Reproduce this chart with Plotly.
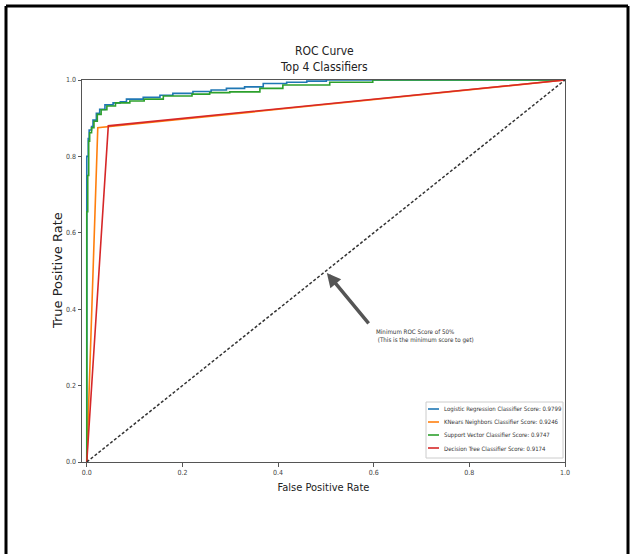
import plotly.graph_objects as go

# ---- data ----
log_fpr = [0.0, 0.0, 0.003, 0.005, 0.010, 0.013, 0.020, 0.027, 0.038, 0.055, 0.070,
           0.083, 0.118, 0.153, 0.180, 0.222, 0.260, 0.292, 0.330, 0.369, 0.418,
           0.460, 0.501, 0.560, 1.0]
log_tpr = [0.0, 0.710, 0.800, 0.847, 0.869, 0.878, 0.895, 0.913, 0.923, 0.935, 0.940,
           0.943, 0.950, 0.955, 0.960, 0.965, 0.970, 0.974, 0.978, 0.982, 0.991,
           0.994, 0.997, 1.0, 1.0]

knn_fpr = [0.0, 0.023, 1.0]
knn_tpr = [0.0, 0.875, 1.0]

svc_fpr = [0.0, 0.0, 0.002, 0.004, 0.006, 0.010, 0.015, 0.022, 0.030, 0.042, 0.060,
           0.090, 0.120, 0.160, 0.220, 0.257, 0.299, 0.362, 0.410, 0.508, 0.598,
           0.679, 1.0]
svc_tpr = [0.0, 0.600, 0.655, 0.750, 0.840, 0.862, 0.875, 0.892, 0.910, 0.922, 0.932,
           0.940, 0.945, 0.950, 0.958, 0.963, 0.967, 0.969, 0.978, 0.987, 0.994,
           1.0, 1.0]

tree_fpr = [0.0, 0.045, 1.0]
tree_tpr = [0.0, 0.880, 1.0]

labels = ["Logistic Regression Classifier Score: 0.9799",
          "KNears Neighbors Classifier Score: 0.9246",
          "Support Vector Classifier Score: 0.9747",
          "Decision Tree Classifier Score: 0.9174"]
colors = ["#1f77b4", "#ff7f0e", "#2ca02c", "#d62728"]

chance_x = [0, 1]
chance_y = [0, 1]

x_ticks = [0.0, 0.2, 0.4, 0.6, 0.8, 1.0]
y_ticks = [0.0, 0.2, 0.4, 0.6, 0.8, 1.0]

NARROW = "Liberation Sans Narrow, DejaVu Sans Condensed, Arial Narrow, sans-serif"

# layout geometry (pixels)
W, H = 631, 554
ML, MR, MT, MB = 82, 66, 80, 92
PW, PH = W - ML - MR, H - MT - MB


def px(xpix):
    return (xpix - ML) / PW


def py(ypix):
    return (H - MB - ypix) / PH


fig = go.Figure()
series = [(log_fpr, log_tpr, "vh"), (knn_fpr, knn_tpr, "linear"),
          (svc_fpr, svc_tpr, "vh"), (tree_fpr, tree_tpr, "linear")]
for (fx, ty, shape), lab, col in zip(series, labels, colors):
    fig.add_trace(go.Scatter(x=fx, y=ty, mode="lines", name=lab, showlegend=False,
                             line=dict(color=col, width=1.6, shape=shape)))

fig.add_trace(go.Scatter(x=chance_x, y=chance_y, mode="lines", showlegend=False,
                         line=dict(color="#333333", width=1.5, dash="3px,2px")))

# arrow annotation
fig.add_annotation(x=0.502, y=0.495, ax=0.592, ay=0.359, xref="x", yref="y",
                   axref="x", ayref="y", text="", showarrow=True,
                   arrowhead=2, arrowsize=0.8, arrowwidth=3.5, arrowcolor="#555555",
                   standoff=0, startstandoff=0)
fig.add_annotation(x=0.6, y=0.329, xref="x", yref="y", xanchor="left", yanchor="middle",
                   align="left", showarrow=False,
                   text="Minimum ROC Score of 50%<br>\u00a0(This is the minimum score to get)",
                   font=dict(family=NARROW, size=6.2, color="#333333"))

# title
fig.add_annotation(x=0.5, y=1.0, xref="paper", yref="paper", yshift=4,
                   xanchor="center", yanchor="bottom", showarrow=False,
                   text="ROC Curve<br>Top 4 Classifiers",
                   font=dict(family=NARROW, size=12, color="#222222"))

# y axis title
fig.add_annotation(x=px(57), y=0.5, xref="paper", yref="paper", textangle=-90,
                   xanchor="center", yanchor="middle", showarrow=False,
                   text="True Positive Rate",
                   font=dict(family="DejaVu Sans", size=13, color="#222222"))

# legend (matplotlib style, compact)
fig.add_shape(type="rect", xref="paper", yref="paper",
              x0=px(426), x1=px(563), y0=py(458), y1=py(402),
              fillcolor="white", line=dict(color="#cccccc", width=1))
row_y = [409, 422, 435, 448]
for lab, col, ry in zip(labels, colors, row_y):
    fig.add_shape(type="line", xref="paper", yref="paper",
                  x0=px(428), x1=px(439), y0=py(ry), y1=py(ry),
                  line=dict(color=col, width=1.6))
    fig.add_annotation(x=px(442), y=py(ry), xref="paper", yref="paper",
                       xanchor="left", yanchor="middle", showarrow=False, text=lab,
                       font=dict(family=NARROW, size=6.0, color="#333333"))

# frame border of the picture
border = dict(color="black", width=3)
fig.add_shape(type="line", xref="paper", yref="paper", x0=px(6), x1=px(6), y0=py(560), y1=py(6), line=border)
fig.add_shape(type="line", xref="paper", yref="paper", x0=px(6), x1=px(628), y0=py(6), y1=py(6), line=border)
fig.add_shape(type="line", xref="paper", yref="paper", x0=px(628), x1=px(628), y0=py(560), y1=py(6), line=border)

fig.update_layout(
    width=W, height=H,
    margin=dict(l=ML, r=MR, t=MT, b=MB),
    paper_bgcolor="white", plot_bgcolor="white",
    showlegend=False,
)
fig.update_xaxes(range=[-0.01, 1], tickvals=x_ticks, tickformat=".1f",
                 showgrid=False, zeroline=False, showline=True, mirror=True,
                 linecolor="#555555", linewidth=1, ticks="outside", ticklen=3.5,
                 tickcolor="#555555",
                 tickfont=dict(family=NARROW, size=7, color="#444444"),
                 title=dict(text="False Positive Rate", standoff=7,
                            font=dict(family=NARROW, size=11, color="#222222")))
fig.update_yaxes(range=[0, 1], tickvals=y_ticks, tickformat=".1f",
                 showgrid=False, zeroline=False, showline=True, mirror=True,
                 linecolor="#555555", linewidth=1, ticks="outside", ticklen=3.5,
                 tickcolor="#555555",
                 tickfont=dict(family=NARROW, size=7, color="#444444"))

fig.write_html("out.html", config={"displayModeBar": False},
               post_script="document.body.style.margin='0';"
                           "document.documentElement.style.overflow='hidden';"
                           "document.body.style.overflow='hidden';")
